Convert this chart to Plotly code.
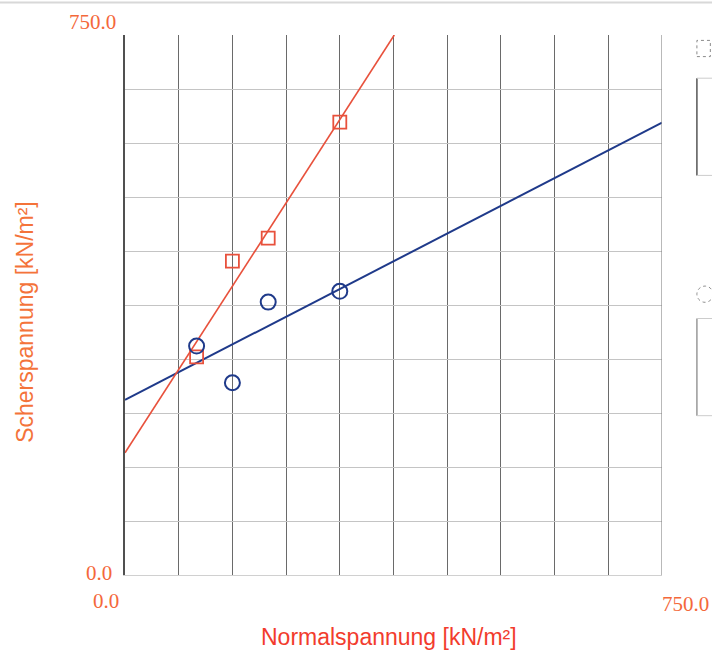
import numpy as np
import plotly.graph_objects as go

# Direct shear test results: normal stress vs. shear stress [kN/m²]
normal_stress = [100, 150, 200, 300]
shear_peak = [303, 436, 468, 629]      # squares
shear_residual = [318, 267, 379, 394]  # circles

axis_min, axis_max = 0.0, 750.0
grid_step = 75.0

RED = "#e8513c"
BLUE = "#1f3a8a"
LABEL = "#f4683a"
XTITLE = "#f23c2d"
YTITLE = "#f4733a"


def fit_line(xs, ys):
    m, b = np.polyfit(xs, ys, 1)
    x_end = min(axis_max, (axis_max - b) / m) if m > 0 else axis_max
    return [axis_min, x_end], [b + m * axis_min, b + m * x_end]


fig = go.Figure()

rx, ry = fit_line(normal_stress, shear_peak)
bx, by = fit_line(normal_stress, shear_residual)

fig.add_trace(go.Scatter(x=bx, y=by, mode="lines",
                         line=dict(color=BLUE, width=2), showlegend=False))
fig.add_trace(go.Scatter(x=rx, y=ry, mode="lines",
                         line=dict(color=RED, width=1.6), showlegend=False))
fig.add_trace(go.Scatter(x=normal_stress, y=shear_peak, mode="markers",
                         marker=dict(symbol="square-open", size=13,
                                     color=RED, line=dict(width=1.8)),
                         showlegend=False))
fig.add_trace(go.Scatter(x=normal_stress, y=shear_residual, mode="markers",
                         marker=dict(symbol="circle-open", size=15,
                                     color=BLUE, line=dict(width=2)),
                         showlegend=False))

serif = dict(family="Liberation Serif, Times New Roman, serif", size=21, color=LABEL)

annotations = [
    dict(x=axis_min, y=axis_max, xref="x", yref="y", text="750.0", showarrow=False,
         xanchor="right", yanchor="middle", xshift=-7, yshift=13, font=serif),
    dict(x=axis_min, y=axis_min, xref="x", yref="y", text="0.0", showarrow=False,
         xanchor="right", yanchor="middle", xshift=-11, yshift=2, font=serif),
    dict(x=axis_min, y=axis_min, xref="x", yref="y", text="0.0", showarrow=False,
         xanchor="center", yanchor="middle", xshift=-19, yshift=-26, font=serif),
    dict(x=axis_max, y=axis_min, xref="x", yref="y", text="750.0", showarrow=False,
         xanchor="center", yanchor="middle", xshift=23, yshift=-29, font=serif),
    dict(x=0.492, y=-0.115, xref="paper", yref="paper", text="Normalspannung [kN/m²]",
         showarrow=False, xanchor="center", yanchor="middle",
         font=dict(family="Liberation Sans, Arial, sans-serif", size=23, color=XTITLE)),
    dict(x=-0.186, y=0.469, xref="paper", yref="paper", text="Scherspannung [kN/m²]",
         showarrow=False, xanchor="center", yanchor="middle", textangle=-90,
         font=dict(family="Liberation Sans, Arial, sans-serif", size=23, color=YTITLE)),
]

shapes = [
    # thin rule across the top of the sheet
    dict(type="line", xref="paper", yref="paper", x0=-0.25, x1=1.1, y0=1.06, y1=1.06,
         line=dict(color="#d8d8d8", width=2)),
    # right-hand border of the grid
    dict(type="line", xref="x", yref="paper", x0=axis_max, x1=axis_max, y0=0, y1=1,
         line=dict(color="#8a8a8a", width=1.2)),
    # partially visible key boxes at the right edge
    dict(type="rect", xref="paper", yref="paper", x0=1.065, x1=1.09, y0=0.96, y1=0.99,
         line=dict(color="#8a8a8a", width=1, dash="dot")),
    dict(type="line", xref="paper", yref="paper", x0=1.065, x1=1.065, y0=0.74, y1=0.92,
         line=dict(color="#555555", width=1.5)),
    dict(type="line", xref="paper", yref="paper", x0=1.065, x1=1.1, y0=0.92, y1=0.92,
         line=dict(color="#cccccc", width=1)),
    dict(type="line", xref="paper", yref="paper", x0=1.065, x1=1.1, y0=0.74, y1=0.74,
         line=dict(color="#cccccc", width=1)),
    dict(type="circle", xref="paper", yref="paper", x0=1.065, x1=1.095, y0=0.505, y1=0.535,
         line=dict(color="#8a8a8a", width=1, dash="dot")),
    dict(type="line", xref="paper", yref="paper", x0=1.065, x1=1.065, y0=0.295, y1=0.475,
         line=dict(color="#999999", width=1.5)),
    dict(type="line", xref="paper", yref="paper", x0=1.065, x1=1.1, y0=0.475, y1=0.475,
         line=dict(color="#cccccc", width=1)),
    dict(type="line", xref="paper", yref="paper", x0=1.065, x1=1.1, y0=0.295, y1=0.295,
         line=dict(color="#cccccc", width=1)),
]

fig.update_layout(
    width=712, height=654,
    margin=dict(l=125, r=50, t=35, b=79),
    paper_bgcolor="white", plot_bgcolor="white",
    annotations=annotations, shapes=shapes,
    xaxis=dict(range=[axis_min, axis_max], dtick=grid_step, tick0=0,
               showticklabels=False, ticks="", zeroline=False,
               showgrid=True, gridcolor="#6a6a6a", gridwidth=1.2,
               showline=True, linecolor="#d0d0d0", linewidth=1, mirror=False),
    yaxis=dict(range=[axis_min, axis_max], dtick=grid_step, tick0=0,
               showticklabels=False, ticks="", zeroline=False,
               showgrid=True, gridcolor="#c4c4c4", gridwidth=1.2,
               showline=True, linecolor="#505050", linewidth=1.6, mirror=False),
)

fig.write_html("out.html")
